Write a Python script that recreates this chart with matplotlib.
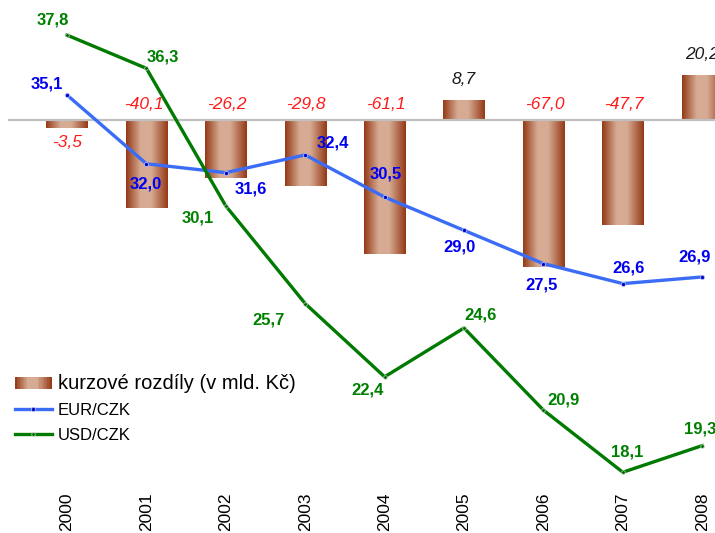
import numpy as np
import matplotlib
matplotlib.use("Agg")
import matplotlib.pyplot as plt
from matplotlib.patches import Rectangle
from matplotlib.lines import Line2D
from matplotlib.legend_handler import HandlerBase
from matplotlib.colors import LinearSegmentedColormap

plt.rcParams['font.family'] = ['Liberation Sans', 'DejaVu Sans']

# ---- data ----
years = ["2000", "2001", "2002", "2003", "2004", "2005", "2006", "2007", "2008"]
kurzove_rozdily = [-3.5, -40.1, -26.2, -29.8, -61.1, 8.7, -67.0, -47.7, 20.2]
eur_czk = [35.1, 32.0, 31.6, 32.4, 30.5, 29.0, 27.5, 26.6, 26.9]
usd_czk = [37.8, 36.3, 30.1, 25.7, 22.4, 24.6, 20.9, 18.1, 19.3]

# ---- label offsets (pixels, +y = up) ----
usd_off = [(-14, 15), (16, 11), (-28, -12), (-37, -16), (-17, -13), (17, 13), (20, 10), (4, 20), (-2, 17)]
eur_off = [(-20, 11), (-1, -20), (25, -16), (28, 12), (1, 23), (-5, -17), (-2, -21), (6, 16), (-8, 20)]

W, H = 715, 533
fig = plt.figure(figsize=(W / 100, H / 100), dpi=100)
ax = fig.add_axes([8 / W, 43 / H, 707 / W, 490 / H])
ax2 = ax.twinx()

x = np.arange(len(years))
xlim = (-0.743, 8.161)
bar_ylim = (-168.2, 54.55)
line_ylim = (17.30, 39.38)

dark = (0.58, 0.22, 0.08)
light = (0.84, 0.67, 0.58)
cmap = LinearSegmentedColormap.from_list(
    "brown", [(0.0, dark), (0.35, light), (0.6, light), (1.0, dark)])
grad = np.linspace(0, 1, 256).reshape(1, -1)

bars = ax.bar(x, kurzove_rozdily, width=0.52, facecolor='none', edgecolor='none', zorder=2)
for b in bars:
    x0, y0, w, h = b.get_x(), b.get_y(), b.get_width(), b.get_height()
    ax.imshow(grad, cmap=cmap, aspect='auto', extent=(x0, x0 + w, y0, y0 + h),
              zorder=2, interpolation='bicubic')

ax.axhline(0, color='#c0c0c0', lw=1.6, zorder=3)

for xi, v in zip(x, kurzove_rozdily):
    txt = f"{v:.1f}".replace('.', ',')
    if v >= 0:
        ax.annotate(txt, (xi, v), xytext=(0, 21),
                    textcoords='offset pixels', ha='center', va='center',
                    fontsize=12.5, style='italic', color='#1a1a1a')
    elif v > -10:
        ax.annotate(txt, (xi, v), xytext=(0, -15),
                    textcoords='offset pixels', ha='center', va='center',
                    fontsize=12.5, style='italic', color='#ff1a1a')
    else:
        ax.annotate(txt, (xi, 0), xytext=(-3 if xi == 1 else 1, 15),
                    textcoords='offset pixels', ha='center', va='center',
                    fontsize=12.5, style='italic', color='#ff1a1a')

ax.set_xlim(*xlim)
ax.set_ylim(*bar_ylim)
ax2.set_ylim(*line_ylim)
ax2.set_xlim(*xlim)

eur_line, = ax2.plot(x, eur_czk, color='#3b6cf5', lw=2.4, marker='o', ms=3,
                     mfc='#0000c0', mec='#b0c0ff', mew=0.6, zorder=5)
usd_line, = ax2.plot(x, usd_czk, color='#007a00', lw=2.4, marker='o', ms=2.6,
                     mfc='#006000', mec='#c0e0c0', mew=0.5, zorder=6)

for xi, v, (dx, dy) in zip(x, eur_czk, eur_off):
    ax2.annotate(f"{v:.1f}".replace('.', ','), (xi, v), xytext=(dx, dy),
                 textcoords='offset pixels', ha='center', va='center',
                 fontsize=12, fontweight='bold', color='#0000ee', zorder=7)
for xi, v, (dx, dy) in zip(x, usd_czk, usd_off):
    ax2.annotate(f"{v:.1f}".replace('.', ','), (xi, v), xytext=(dx, dy),
                 textcoords='offset pixels', ha='center', va='center',
                 fontsize=12, fontweight='bold', color='#008000', zorder=7)

for a in (ax, ax2):
    for s in a.spines.values():
        s.set_visible(False)
    a.tick_params(length=0)
ax2.set_yticks([])
ax.set_yticks([])
ax.set_xticks(x)
ax.set_xticklabels(years, rotation=90, fontsize=12.5)
ax.tick_params(axis='x', pad=2)


class GradientHandler(HandlerBase):
    def create_artists(self, legend, orig_handle, xdescent, ydescent, width, height, fontsize, trans):
        n = 24
        arts = []
        hh = height * 1.0
        for i in range(n):
            c = cmap((i + 0.5) / n)
            r = Rectangle((-xdescent + width * i / n, -ydescent + (height - hh) / 2), width / n + 0.3, hh,
                          facecolor=c, edgecolor='none', transform=trans)
            arts.append(r)
        return arts


bar_handle = Rectangle((0, 0), 1, 1)
eur_h = Line2D([], [], color='#3b6cf5', lw=2.4, marker='o', ms=3, mfc='#0000c0', mec='#b0c0ff', mew=0.6)
usd_h = Line2D([], [], color='#007a00', lw=2.4, marker='o', ms=2.6, mfc='#006000', mec='#c0e0c0', mew=0.5)

leg = ax2.legend([bar_handle, eur_h, usd_h],
                 ["kurzové rozdíly (v mld. Kč)", "EUR/CZK", "USD/CZK"],
                 handler_map={Rectangle: GradientHandler()},
                 loc='upper left', bbox_to_anchor=(15 / W, 1 - 374 / H),
                 bbox_transform=fig.transFigure, frameon=False,
                 handlelength=2.2, handletextpad=0.36, labelspacing=0.6,
                 borderpad=0, borderaxespad=0, fontsize=12)
texts = leg.get_texts()
texts[0].set_fontsize(14.5)

fig.savefig("out.png", dpi=100)
